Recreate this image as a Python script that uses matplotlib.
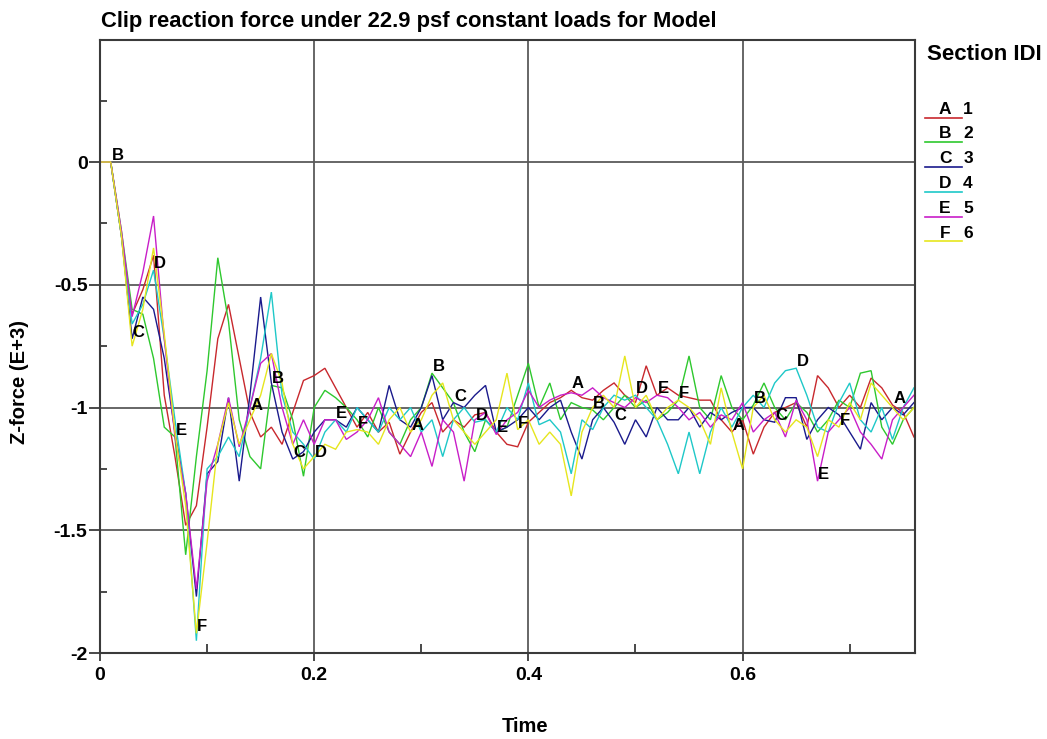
import numpy as np
import matplotlib
matplotlib.use("Agg")
import matplotlib.pyplot as plt
from matplotlib.lines import Line2D
from matplotlib.transforms import offset_copy

plt.rcParams['font.family'] = ['Liberation Sans', 'DejaVu Sans']
plt.rcParams['font.weight'] = 'bold'
plt.rcParams['axes.unicode_minus'] = False

# ---- data -------------------------------------------------------------
time = np.round(np.arange(77) * 0.01, 2)

section_ids = ["1", "2", "3", "4", "5", "6"]
curve_tags = ["A", "B", "C", "D", "E", "F"]
x_ticks = [0, 0.2, 0.4, 0.6]
x_tick_labels = ["0", "0.2", "0.4", "0.6"]
y_ticks = [-2, -1.5, -1, -0.5, 0]
y_tick_labels = ["-2", "-1.5", "-1", "-0.5", "0"]

sec1 = [0, 0, -0.30, -0.62, -0.52, -0.38, -0.95, -1.20, -1.48, -1.40,
        -1.08, -0.72, -0.58, -0.80, -1.02, -1.12, -1.08, -1.15, -1.02, -0.89,
        -0.87, -0.84, -0.92, -1.00, -1.08, -1.02, -1.10, -1.06, -1.19, -1.10,
        -1.02, -0.98, -1.10, -1.05, -1.08, -1.03, -1.02, -1.10, -1.15, -1.16,
        -1.06, -1.02, -0.98, -0.96, -0.93, -0.96, -0.97, -0.93, -0.90, -0.95,
        -0.98, -0.83, -0.95, -0.92, -0.95, -0.96, -0.97, -0.97, -1.05, -1.10,
        -1.05, -1.19, -1.08, -1.02, -1.00, -0.98, -1.08, -0.87, -0.92, -1.00,
        -0.95, -1.00, -0.88, -0.92, -0.99, -1.02, -1.12]

sec2 = [0, 0, -0.28, -0.60, -0.62, -0.80, -1.08, -1.12, -1.60, -1.20,
        -0.85, -0.39, -0.65, -1.05, -1.20, -1.25, -0.91, -0.92, -1.05, -1.28,
        -1.00, -0.93, -0.96, -1.00, -1.05, -1.12, -1.00, -1.10, -1.15, -1.05,
        -1.00, -0.86, -0.92, -0.98, -1.10, -1.18, -1.05, -1.10, -1.08, -0.95,
        -0.82, -1.00, -0.90, -1.05, -0.98, -1.00, -1.01, -1.05, -1.00, -0.95,
        -1.00, -0.97, -1.05, -1.02, -0.97, -0.79, -1.00, -1.05, -0.87, -1.00,
        -1.05, -0.99, -0.90, -1.00, -1.05, -0.98, -1.02, -1.10, -1.05, -0.97,
        -1.00, -0.86, -0.85, -1.08, -1.15, -1.05, -1.00]

sec3 = [0, 0, -0.30, -0.72, -0.55, -0.60, -0.80, -1.10, -1.35, -1.77,
        -1.27, -1.22, -0.96, -1.30, -0.95, -0.55, -0.90, -1.10, -1.21, -1.18,
        -1.10, -1.05, -1.05, -1.08, -1.00, -1.05, -1.10, -0.91, -1.05, -1.08,
        -1.00, -0.87, -1.05, -0.98, -1.00, -0.95, -0.91, -1.10, -1.08, -1.05,
        -1.00, -1.05, -1.00, -0.97, -1.10, -1.21, -1.05, -1.00, -1.06, -1.15,
        -1.05, -1.12, -1.00, -1.05, -1.05, -1.00, -1.08, -1.02, -1.05, -1.02,
        -1.00, -1.00, -1.05, -1.06, -0.96, -0.96, -1.13, -1.05, -1.00, -1.03,
        -1.10, -1.17, -0.98, -1.05, -1.00, -1.03, -0.98]

sec4 = [0, 0, -0.30, -0.66, -0.58, -0.44, -0.72, -1.05, -1.35, -1.95,
        -1.25, -1.20, -1.12, -1.20, -1.00, -0.80, -0.53, -0.95, -1.10, -1.15,
        -1.21, -1.10, -1.05, -1.10, -1.00, -1.05, -1.10, -1.00, -1.05, -1.00,
        -1.10, -1.05, -1.20, -1.05, -1.00, -1.06, -1.05, -1.10, -1.00, -1.05,
        -0.90, -1.07, -1.05, -1.10, -1.27, -1.05, -1.09, -1.00, -0.95, -0.97,
        -0.95, -1.00, -1.05, -1.15, -1.27, -1.10, -1.27, -1.10, -1.00, -1.08,
        -1.00, -0.95, -1.00, -0.90, -0.85, -0.84, -0.95, -1.08, -1.10, -0.98,
        -0.90, -1.05, -1.10, -1.00, -1.13, -1.00, -0.92]

sec5 = [0, 0, -0.28, -0.63, -0.45, -0.22, -0.72, -1.12, -1.35, -1.74,
        -1.30, -1.15, -0.96, -1.16, -1.00, -0.82, -0.78, -1.00, -1.15, -1.05,
        -1.15, -1.05, -1.05, -1.13, -1.10, -1.05, -0.96, -1.10, -1.15, -1.20,
        -1.10, -1.24, -1.05, -1.10, -1.30, -1.05, -1.02, -1.11, -1.05, -1.02,
        -0.93, -1.00, -0.97, -0.95, -0.94, -0.95, -0.92, -0.96, -0.98, -1.00,
        -0.96, -0.98, -0.95, -0.96, -1.00, -1.05, -1.02, -1.08, -1.03, -1.05,
        -0.98, -1.10, -1.05, -1.02, -1.12, -0.97, -1.05, -1.30, -1.10, -1.05,
        -1.00, -1.10, -1.15, -1.21, -1.05, -1.00, -0.95]

sec6 = [0, 0, -0.30, -0.75, -0.60, -0.35, -0.70, -1.10, -1.40, -1.92,
        -1.55, -1.15, -0.98, -1.15, -1.05, -0.95, -0.78, -0.90, -1.15, -1.25,
        -1.20, -1.15, -1.17, -1.10, -1.09, -1.10, -1.15, -1.05, -1.00, -1.10,
        -1.05, -0.95, -0.90, -1.05, -1.10, -1.15, -1.10, -1.05, -0.86, -1.09,
        -1.05, -1.15, -1.10, -1.15, -1.36, -1.10, -1.00, -0.95, -1.00, -0.79,
        -1.00, -0.95, -1.05, -1.00, -0.97, -1.00, -1.05, -1.15, -0.92, -1.10,
        -1.25, -1.00, -0.95, -1.05, -1.10, -1.05, -1.08, -1.20, -1.05, -1.08,
        -0.98, -1.05, -0.90, -0.95, -1.00, -1.05, -1.00]

series = [sec1, sec2, sec3, sec4, sec5, sec6]
colors = ["#c8282d", "#2ec82e", "#1a1a8c", "#1ec8c8", "#c81ec8", "#e6e61e"]

# sample index of the first tag of each curve; tags repeat every 15 samples
tag_first = [14, 1, 3, 5, 7, 9]
tag_every = 15
tag_last = 74  # no tag on the final samples at the right edge

# ---- figure -------------------------------------------------------------
W, H = 1047, 739
fig = plt.figure(figsize=(W / 100, H / 100), dpi=100)
fig.patch.set_facecolor("white")


def fx(px):
    return px / W


def fy(py):
    return 1 - py / H


ax = fig.add_axes([fx(100), fy(653), fx(915) - fx(100), fy(40) - fy(653)])

for vals, col in zip(series, colors):
    ax.plot(time, vals, color=col, lw=1.0, solid_joinstyle="miter")

tag_tr = offset_copy(ax.transData, fig=fig, x=0.5, y=1.5, units="points")
for vals, tag, i0 in zip(series, curve_tags, tag_first):
    for i in range(i0, tag_last + 1, tag_every):
        ax.text(time[i], vals[i], tag, ha="left", va="baseline",
                transform=tag_tr, fontsize=12, fontweight="bold",
                color="black", zorder=5)

ax.set_xlim(0, 0.761)
ax.set_ylim(-2, 0.497)
ax.set_xticks(x_ticks)
ax.set_xticklabels(x_tick_labels)
ax.set_xticks([0.1, 0.3, 0.5, 0.7], minor=True)
ax.set_yticks(y_ticks)
ax.set_yticklabels(y_tick_labels)
ax.set_yticks([-1.75, -1.25, -0.75, -0.25, 0.25], minor=True)

ax.grid(True, which="major", color="#5a5a5a", lw=1.3)
ax.set_axisbelow(True)
for sp in ax.spines.values():
    sp.set_color("#3a3a3a")
    sp.set_linewidth(1.5)

ax.tick_params(axis="x", which="major", direction="out", length=6, width=1.3,
               pad=4, labelsize=14, colors="#3a3a3a", labelcolor="black")
ax.tick_params(axis="y", which="major", direction="out", length=8, width=1.3,
               pad=1, labelsize=14, colors="#3a3a3a", labelcolor="black")
ax.tick_params(axis="x", which="minor", direction="in", length=6.5, width=1.3,
               colors="#3a3a3a")
ax.tick_params(axis="y", which="minor", direction="in", length=5, width=1.3,
               colors="#3a3a3a")
for lab in ax.get_xticklabels() + ax.get_yticklabels():
    lab.set_fontweight("bold")

fig.text(fx(101), fy(22), "Clip reaction force under 22.9 psf constant loads for Model",
         ha="left", va="center", fontsize=15.8, fontweight="bold")
fig.text(fx(525), fy(726), "Time", ha="center", va="center",
         fontsize=14.5, fontweight="bold")
fig.text(fx(20), fy(382), "Z-force (E+3)", ha="center", va="center",
         rotation=90, fontsize=14.5, fontweight="bold")

# legend block on the right
fig.text(fx(927), fy(55), "Section IDI", ha="left", va="center",
         fontsize=16, fontweight="bold")
for k, (tag, sid, col) in enumerate(zip(curve_tags, section_ids, colors)):
    yc = 109 + 24.8 * k
    fig.add_artist(Line2D([fx(925), fx(962)], [fy(yc + 8.5), fy(yc + 8.5)],
                          color=col, lw=1.2, transform=fig.transFigure))
    fig.text(fx(945), fy(yc), tag, ha="center", va="center",
             fontsize=12.5, fontweight="bold")
    fig.text(fx(968), fy(yc), sid, ha="center", va="center",
             fontsize=12.5, fontweight="bold")

fig.savefig("out.png", dpi=100, facecolor="white")
